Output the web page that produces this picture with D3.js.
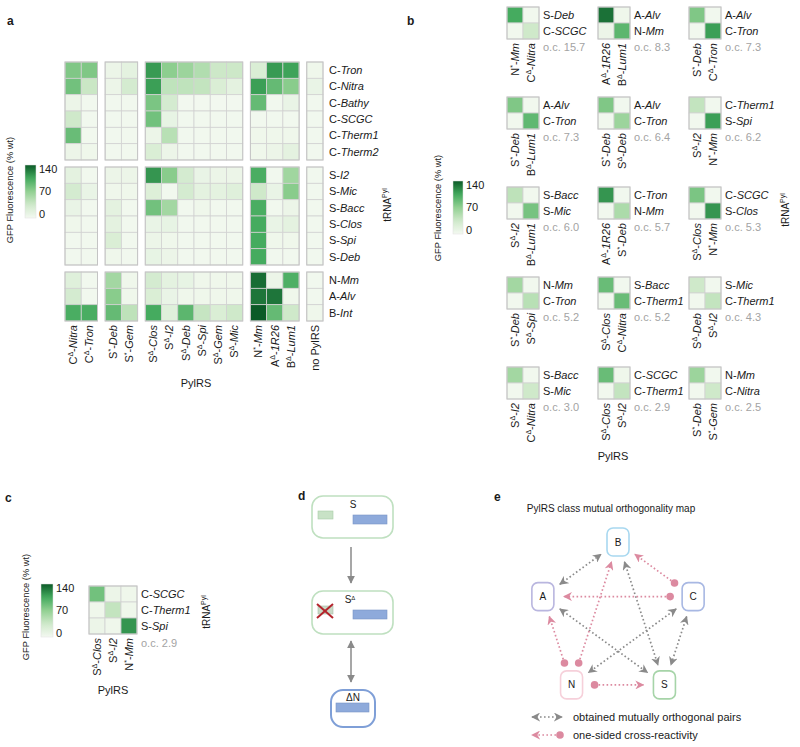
<!DOCTYPE html>
<html><head><meta charset="utf-8">
<script src="https://cdn.jsdelivr.net/npm/d3@7"></script>
<style>
body{margin:0;background:#fff}
text{font-family:"Liberation Sans",Arial,sans-serif;fill:#1a1a1a}
</style>
</head><body>
<svg id="chart" width="800" height="747"></svg>
<script>
// ---------------- DATA ----------------
const legendTicks = [0, 70, 140];

// Panel a
const aColGroups = [
  ["C^Δ-Nitra","C^Δ-Tron"],
  ["S^*-Deb","S^*-Gem"],
  ["S^Δ-Clos","S^Δ-I2","S^Δ-Deb","S^Δ-Spi","S^Δ-Gem","S^Δ-Mic"],
  ["N^*-Mm","A^Δ-1R26","B^Δ-Lum1"],
  ["no PylRS"]
];
const aRowGroups = [
  ["C-Tron","C-Nitra","C-Bathy","C-SCGC","C-Therm1","C-Therm2"],
  ["S-I2","S-Mic","S-Bacc","S-Clos","S-Spi","S-Deb"],
  ["N-Mm","A-Alv","B-Int"]
];
const aValues = [
  [78,78, 8,15, 112,72,64,52,36,36, 25,112,108, 5],
  [84,38, 8,30, 110,44,44,42,25,15, 110,90,74, 10],
  [8,3, 3,3, 80,30,2,2,2,2, 90,3,10, 3],
  [35,3, 3,3, 84,12,3,3,3,3, 3,3,3, 3],
  [88,3, 3,3, 8,48,3,3,3,3, 5,5,5, 3],
  [8,5, 3,3, 25,8,3,3,3,3, 5,8,15, 3],
  [15,3, 8,8, 114,74,30,10,8,8, 102,3,62, 3],
  [30,10, 5,5, 22,3,30,15,15,20, 35,10,74, 3],
  [10,3, 15,3, 84,60,3,5,3,3, 102,3,8, 3],
  [5,3, 15,3, 10,12,3,3,3,3, 104,10,15, 3],
  [3,3, 25,3, 8,5,3,3,3,3, 104,5,5, 3],
  [3,3, 5,3, 12,8,3,3,3,3, 104,3,3, 3],
  [20,3, 60,5, 30,15,12,5,5,5, 132,8,100, 3],
  [30,3, 74,5, 25,10,5,5,5,5, 128,128,5, 3],
  [102,102, 90,45, 104,20,94,40,25,35, 140,90,35, 5]
];

// Panel b (15 pairs)
const bPylRS = [
  ["N^*-Mm","C^Δ-Nitra"],["A^Δ-1R26","B^Δ-Lum1"],["S^*-Deb","C^Δ-Tron"],
  ["S^*-Deb","B^Δ-Lum1"],["S^*-Deb","S^Δ-Deb"],["S^Δ-I2","N^*-Mm"],
  ["S^Δ-I2","B^Δ-Lum1"],["A^Δ-1R26","S^*-Deb"],["S^Δ-Clos","N^*-Mm"],
  ["S^*-Deb","S^Δ-Spi"],["S^Δ-Clos","C^Δ-Nitra"],["S^Δ-Deb","S^Δ-I2"],
  ["S^Δ-I2","C^Δ-Nitra"],["S^Δ-Clos","S^Δ-I2"],["S^*-Deb","S^*-Gem"]
];
const btRNA = [
  ["S-Deb","C-SCGC"],["A-Alv","N-Mm"],["A-Alv","C-Tron"],
  ["A-Alv","C-Tron"],["A-Alv","C-Tron"],["C-Therm1","S-Spi"],
  ["S-Bacc","S-Mic"],["C-Tron","N-Mm"],["C-SCGC","S-Clos"],
  ["N-Mm","C-Tron"],["S-Bacc","C-Therm1"],["S-Mic","C-Therm1"],
  ["S-Bacc","S-Mic"],["C-SCGC","C-Therm1"],["N-Mm","C-Nitra"]
];
const bValues = [
  [[104,3],[3,35]], [[130,5],[8,94]], [[78,3],[3,110]],
  [[78,3],[3,92]],  [[78,3],[3,64]],  [[42,3],[3,110]],
  [[45,3],[3,82]],  [[114,3],[3,55]], [[80,3],[3,114]],
  [[60,3],[3,48]],  [[88,3],[3,88]],  [[35,3],[3,42]],
  [[60,3],[3,35]],  [[88,5],[3,42]],  [[64,3],[3,35]]
];
const bOC = [15.7, 8.3, 7.3, 7.3, 6.4, 6.2, 6.0, 5.7, 5.3, 5.2, 5.2, 4.3, 3.0, 2.9, 2.5];

// Panel c
const cPylRS = ["S^Δ-Clos","S^Δ-I2","N^*-Mm"];
const ctRNA = ["C-SCGC","C-Therm1","S-Spi"];
const cValues = [[84,8,5],[5,42,5],[8,5,114]];
const cOC = 2.9;

// Panel e
const eNodes = ["B","C","S","N","A"];
const eMutual = [["A","B"],["A","S"],["B","S"],["C","N"],["C","S"]];
const eOneSided = [["C","B"],["C","A"],["N","A"],["N","B"],["N","S"]];
const eLegend = ["obtained mutually orthogonal pairs","one-sided cross-reactivity"];

// ---------------- DRAWING ----------------
const svg = d3.select("#chart");
const color = d3.scaleLinear()
  .domain([0,35,70,105,140])
  .range(["#f4f9f1","#cfe9ca","#92d092","#43aa5e","#0b5a27"])
  .clamp(true);
const CELLSTROKE = "#d2d2d2";
const GRAYTXT = "#a3a3a3";

function rich(sel, str){
  const m = str.match(/^([A-Z])(?:\^(.))?-(.+)$/);
  if(!m){ sel.append("tspan").text(str); return; }
  sel.append("tspan").text(m[1]);
  if(m[2]){
    sel.append("tspan").attr("font-size","7px").attr("dy",-4).text(m[2]);
    sel.append("tspan").attr("dy",4).text("-");
  } else sel.append("tspan").text("-");
  sel.append("tspan").attr("font-style","italic").text(m[3]);
}
function trnaLabel(x, cy){
  const t = svg.append("text").attr("transform",`translate(${x},${cy}) rotate(-90)`)
    .attr("text-anchor","middle").attr("font-size","10px");
  t.append("tspan").text("tRNA");
  t.append("tspan").attr("font-size","7px").attr("dy",-4).text("Pyl");
}
// gradient
const defs = svg.append("defs");
const grad = defs.append("linearGradient").attr("id","gr").attr("x1",0).attr("x2",0).attr("y1",1).attr("y2",0);
d3.range(0,141,10).forEach(v=>grad.append("stop").attr("offset",v/140).attr("stop-color",color(v)));

function legend(x, y, w, h, pad, gfpX, gfpCy){
  svg.append("rect").attr("x",x).attr("y",y).attr("width",w).attr("height",h)
    .attr("fill","url(#gr)").attr("stroke","#e0e0e0").attr("stroke-width",0.5);
  const s = d3.scaleLinear().domain([0,140]).range([y+h-pad, y+pad]);
  svg.append("g").selectAll("text").data(legendTicks).join("text")
    .attr("x",x+w+3).attr("y",d=>s(d)).attr("dy","0.35em").attr("font-size","11px").text(d=>d);
  svg.append("text").attr("transform",`translate(${gfpX},${gfpCy}) rotate(-90)`)
    .attr("text-anchor","middle").attr("font-size","9.3px").text("GFP Fluorescence (% wt)");
}

// panel letters
[["a",7,25],["b",407,25],["c",5,502],["d",298,500],["e",494,501]].forEach(([l,x,y])=>
  svg.append("text").attr("x",x).attr("y",y).attr("font-weight","bold").attr("font-size","12px").text(l));

// ===== Panel a =====
(function(){
  const gapF = 0.47;
  const colPos = []; let k=0;
  aColGroups.forEach((g,gi)=>g.forEach(c=>{colPos.push({name:c,pos:k+gi*gapF,gi}); k++;}));
  const rowPos = []; let r=0;
  aRowGroups.forEach((g,gi)=>g.forEach(c=>{rowPos.push({name:c,pos:r+gi*0.43,gi}); r++;}));
  const nC = k + (aColGroups.length-1)*gapF, nR = r + (aRowGroups.length-1)*0.43;
  const x = d3.scaleLinear().domain([0,nC]).range([65,323]);
  const y = d3.scaleLinear().domain([0,nR]).range([62,321]);
  const cw = x(1)-x(0), ch = y(1)-y(0);
  const g = svg.append("g");
  rowPos.forEach((rp,ri)=>colPos.forEach((cp,ci)=>{
    g.append("rect").attr("x",x(cp.pos)).attr("y",y(rp.pos)).attr("width",cw).attr("height",ch)
      .attr("fill",color(aValues[ri][ci])).attr("stroke",CELLSTROKE).attr("stroke-width",0.8);
  }));
  aRowGroups.forEach((rg,rgi)=>aColGroups.forEach((cg,cgi)=>{
    const cs = colPos.filter(c=>c.gi===cgi), rs = rowPos.filter(q=>q.gi===rgi);
    g.append("rect").attr("x",x(cs[0].pos)).attr("y",y(rs[0].pos))
      .attr("width",cw*cs.length).attr("height",ch*rs.length)
      .attr("fill","none").attr("stroke","#c4c4c4").attr("stroke-width",1);
  }));
  rowPos.forEach(rp=>{
    const t = g.append("text").attr("x",x(nC)+6).attr("y",y(rp.pos)+ch/2).attr("dy","0.35em").attr("font-size","11px");
    rich(t, rp.name);
  });
  colPos.forEach(cp=>{
    const t = g.append("text").attr("transform",`translate(${x(cp.pos)+cw/2},${y(nR)+4}) rotate(-90)`)
      .attr("text-anchor","end").attr("dy","0.35em").attr("font-size","11px");
    rich(t, cp.name);
  });
  svg.append("text").attr("x",196).attr("y",387).attr("text-anchor","middle").attr("font-size","11px").text("PylRS");
  trnaLabel(391, 205);
  legend(25,165,11,53,4,13,190);
})();

// ===== Panel b =====
(function(){
  const colX = d3.scaleLinear().domain([0,1]).range([507,598]);
  const rowY = d3.scaleLinear().domain([0,1]).range([7,97]);
  const cs = 16;
  bPylRS.forEach((pyl,i)=>{
    const gx = colX(i%3), gy = rowY(Math.floor(i/3));
    const cx = d3.scaleBand().domain([0,1]).range([gx,gx+2*cs]);
    const cy = d3.scaleBand().domain([0,1]).range([gy,gy+2*cs]);
    const g = svg.append("g");
    [0,1].forEach(ri=>[0,1].forEach(ci=>{
      g.append("rect").attr("x",cx(ci)).attr("y",cy(ri)).attr("width",cs).attr("height",cs)
        .attr("fill",color(bValues[i][ri][ci])).attr("stroke",CELLSTROKE).attr("stroke-width",0.8);
    }));
    g.append("rect").attr("x",gx).attr("y",gy).attr("width",2*cs).attr("height",2*cs)
      .attr("fill","none").attr("stroke","#c4c4c4");
    btRNA[i].forEach((nm,ri)=>{
      const t = g.append("text").attr("x",gx+2*cs+4).attr("y",cy(ri)+cs/2).attr("dy","0.35em").attr("font-size","11px");
      rich(t,nm);
    });
    pyl.forEach((nm,ci)=>{
      const t = g.append("text").attr("transform",`translate(${cx(ci)+cs/2},${gy+2*cs+4}) rotate(-90)`)
        .attr("text-anchor","end").attr("dy","0.35em").attr("font-size","11px");
      rich(t,nm);
    });
    g.append("text").attr("x",gx+2*cs+4).attr("y",gy+2*cs+12).attr("font-size","11px")
      .style("fill",GRAYTXT).text("o.c. "+d3.format(".1f")(bOC[i]));
  });
  svg.append("text").attr("x",613).attr("y",460).attr("text-anchor","middle").attr("font-size","11px").text("PylRS");
  trnaLabel(789, 210);
  legend(453,181,10,53,4,441,208);
})();

// ===== Panel c =====
(function(){
  const x = d3.scaleBand().domain(cPylRS).range([89,137]);
  const y = d3.scaleBand().domain(ctRNA).range([586,634]);
  const g = svg.append("g");
  ctRNA.forEach((rn,ri)=>cPylRS.forEach((cn,ci)=>{
    g.append("rect").attr("x",x(cn)).attr("y",y(rn)).attr("width",x.bandwidth()).attr("height",y.bandwidth())
      .attr("fill",color(cValues[ri][ci])).attr("stroke",CELLSTROKE).attr("stroke-width",0.8);
  }));
  g.append("rect").attr("x",89).attr("y",586).attr("width",48).attr("height",48).attr("fill","none").attr("stroke","#c4c4c4");
  ctRNA.forEach(rn=>{
    const t = g.append("text").attr("x",141).attr("y",y(rn)+y.bandwidth()/2).attr("dy","0.35em").attr("font-size","11px");
    rich(t,rn);
  });
  cPylRS.forEach(cn=>{
    const t = g.append("text").attr("transform",`translate(${x(cn)+x.bandwidth()/2},${638}) rotate(-90)`)
      .attr("text-anchor","end").attr("dy","0.35em").attr("font-size","11px");
    rich(t,cn);
  });
  g.append("text").attr("x",141).attr("y",647).attr("font-size","11px").style("fill",GRAYTXT).text("o.c. "+d3.format(".1f")(cOC));
  svg.append("text").attr("x",113).attr("y",694).attr("text-anchor","middle").attr("font-size","11px").text("PylRS");
  trnaLabel(210, 612);
  legend(41,584,12,53,4,29,607);
})();

// ===== Panel d =====
(function(){
  const g = svg.append("g");
  const m = defs.append("marker").attr("id","ad").attr("viewBox","0 0 10 10").attr("refX",9).attr("refY",5)
    .attr("markerWidth",8).attr("markerHeight",8).attr("markerUnits","userSpaceOnUse").attr("orient","auto-start-reverse");
  m.append("path").attr("d","M0,0 L10,5 L0,10 Z").attr("fill","#8a8a8a");
  const green="#bfe0c0", blueF="#8eaadb", blueS="#7a94c7";
  g.append("rect").attr("x",312).attr("y",496).attr("width",81).attr("height",42).attr("rx",11).attr("fill","#fff").attr("stroke",green).attr("stroke-width",1.6);
  g.append("text").attr("x",353).attr("y",508).attr("text-anchor","middle").attr("font-size","10px").text("S");
  g.append("rect").attr("x",318).attr("y",511).attr("width",15).attr("height",8).attr("fill","#c8e2c6").attr("stroke","#a9cda7").attr("stroke-width",0.6);
  g.append("rect").attr("x",353).attr("y",515).attr("width",34).attr("height",9).attr("fill",blueF).attr("stroke",blueS).attr("stroke-width",0.6);
  g.append("line").attr("x1",351).attr("x2",351).attr("y1",547).attr("y2",583).attr("stroke","#8a8a8a").attr("stroke-width",1.5).attr("marker-end","url(#ad)");
  g.append("rect").attr("x",312).attr("y",591).attr("width",81).attr("height",43).attr("rx",11).attr("fill","#fff").attr("stroke",green).attr("stroke-width",1.6);
  const t = g.append("text").attr("x",350).attr("y",603).attr("text-anchor","middle").attr("font-size","10px");
  t.append("tspan").text("S"); t.append("tspan").attr("font-size","6px").attr("dy",-3).text("Δ");
  g.append("rect").attr("x",318).attr("y",606).attr("width",15).attr("height",8).attr("fill","#c8d9c6").attr("stroke","#a9bda7").attr("stroke-width",0.6);
  g.append("line").attr("x1",317).attr("y1",604).attr("x2",333).attr("y2",618).attr("stroke","#b3242c").attr("stroke-width",2);
  g.append("line").attr("x1",317).attr("y1",618).attr("x2",333).attr("y2",604).attr("stroke","#b3242c").attr("stroke-width",2);
  g.append("rect").attr("x",353).attr("y",610).attr("width",34).attr("height",9).attr("fill",blueF).attr("stroke",blueS).attr("stroke-width",0.6);
  g.append("line").attr("x1",351).attr("x2",351).attr("y1",641).attr("y2",682).attr("stroke","#8a8a8a").attr("stroke-width",1.5)
    .attr("marker-start","url(#ad)").attr("marker-end","url(#ad)");
  g.append("rect").attr("x",331).attr("y",690).attr("width",44).attr("height",37).attr("rx",12).attr("fill","#fff").attr("stroke","#7f9fd7").attr("stroke-width",2);
  g.append("text").attr("x",353).attr("y",701).attr("text-anchor","middle").attr("font-size","10px").text("ΔN");
  g.append("rect").attr("x",336).attr("y",703).attr("width",33).attr("height",9).attr("fill",blueF).attr("stroke",blueS).attr("stroke-width",0.6);
})();

// ===== Panel e =====
(function(){
  const g = svg.append("g");
  const GRAY="#8a8a8a", PINK="#dc8aa0";
  const mg = defs.append("marker").attr("id","ag").attr("viewBox","0 0 10 10").attr("refX",9).attr("refY",5)
    .attr("markerWidth",9).attr("markerHeight",9).attr("markerUnits","userSpaceOnUse").attr("orient","auto-start-reverse");
  mg.append("path").attr("d","M0,0 L10,5 L0,10 L3,5 Z").attr("fill",GRAY);
  const mp = defs.append("marker").attr("id","ap").attr("viewBox","0 0 10 10").attr("refX",9).attr("refY",5)
    .attr("markerWidth",9).attr("markerHeight",9).attr("markerUnits","userSpaceOnUse").attr("orient","auto-start-reverse");
  mp.append("path").attr("d","M0,0 L10,5 L0,10 L3,5 Z").attr("fill",PINK);

  svg.append("text").attr("x",611).attr("y",512).attr("text-anchor","middle").attr("font-size","10px").text("PylRS class mutual orthogonality map");

  const ang = d3.scaleLinear().domain([0,eNodes.length]).range([-Math.PI/2, 1.5*Math.PI]);
  const pos = {};
  eNodes.forEach((n,i)=>{ pos[n] = [618 + 79*Math.cos(ang(i)), 621 + 79*Math.sin(ang(i))]; });
  const nodeStroke = {B:"#a8d8f0",C:"#a8b8e3",S:"#a6d4a8",N:"#f6d0da",A:"#b9b6df"};
  const off = 21;
  function seg(a,b,o1,o2){
    const [x1,y1]=pos[a],[x2,y2]=pos[b]; const dx=x2-x1, dy=y2-y1, L=Math.hypot(dx,dy);
    return [x1+dx/L*o1, y1+dy/L*o1, x2-dx/L*o2, y2-dy/L*o2];
  }
  eMutual.forEach(([a,b])=>{
    const [x1,y1,x2,y2]=seg(a,b,off,off);
    g.append("line").attr("x1",x1).attr("y1",y1).attr("x2",x2).attr("y2",y2)
      .attr("stroke",GRAY).attr("stroke-width",1.7).attr("stroke-dasharray","1.6 2.4")
      .attr("marker-start","url(#ag)").attr("marker-end","url(#ag)");
  });
  eOneSided.forEach(([a,b])=>{
    const [x1,y1,x2,y2]=seg(a,b,off+2,off);
    g.append("line").attr("x1",x1).attr("y1",y1).attr("x2",x2).attr("y2",y2)
      .attr("stroke",PINK).attr("stroke-width",1.7).attr("stroke-dasharray","1.6 2.4")
      .attr("marker-end","url(#ap)");
    g.append("circle").attr("cx",x1).attr("cy",y1).attr("r",3.8).attr("fill",PINK);
  });
  eNodes.forEach(n=>{
    g.append("rect").attr("x",pos[n][0]-11).attr("y",pos[n][1]-14).attr("width",22).attr("height",28).attr("rx",6)
      .attr("fill","#fff").attr("stroke",nodeStroke[n]).attr("stroke-width",1.6);
    g.append("text").attr("x",pos[n][0]).attr("y",pos[n][1]).attr("dy","0.35em").attr("text-anchor","middle").attr("font-size","10px").text(n);
  });
  g.append("line").attr("x1",532).attr("x2",562).attr("y1",717).attr("y2",717)
    .attr("stroke",GRAY).attr("stroke-width",1.7).attr("stroke-dasharray","1.6 2.4")
    .attr("marker-start","url(#ag)").attr("marker-end","url(#ag)");
  g.append("line").attr("x1",560).attr("x2",532).attr("y1",735).attr("y2",735)
    .attr("stroke",PINK).attr("stroke-width",1.7).attr("stroke-dasharray","1.6 2.4").attr("marker-end","url(#ap)");
  g.append("circle").attr("cx",560).attr("cy",735).attr("r",3.8).attr("fill",PINK);
  eLegend.forEach((t,i)=>g.append("text").attr("x",573).attr("y",717+18*i).attr("dy","0.35em").attr("font-size","11px").text(t));
})();
</script>
</body></html>
